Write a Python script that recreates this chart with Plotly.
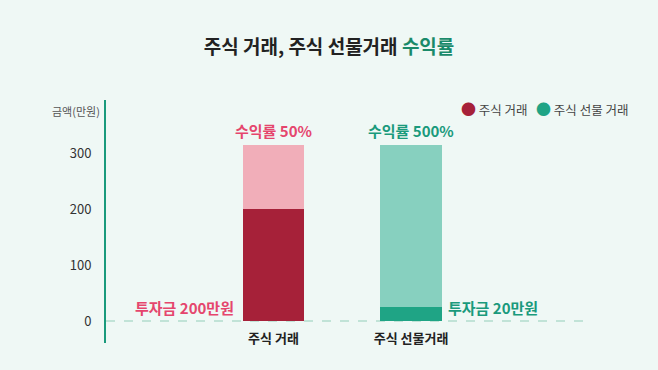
import plotly.graph_objects as go

categories = ["주식 거래", "주식 선물거래"]
invest = [200, 25]
profit = [116, 291]
return_labels = ["수익률 50%", "수익률 500%"]
invest_labels = ["투자금 200만원", "투자금 20만원"]
y_ticks = [0, 100, 200, 300]
legend_names = ["주식 거래", "주식 선물 거래"]

FONT = "Noto Sans CJK KR"
BG = "#eff8f5"
dark = ["#a62139", "#1fa485"]
light = ["#f1aeb9", "#87d0bf"]
text_col = ["#e5466d", "#1a9a7c"]
xs = list(range(len(categories)))
BW = 0.447

fig = go.Figure()
fig.add_trace(go.Bar(x=xs, y=invest, width=BW, marker=dict(color=dark, line=dict(width=0)),
                     showlegend=False, hoverinfo="skip"))
fig.add_trace(go.Bar(x=xs, y=profit, width=BW, marker=dict(color=light, line=dict(width=0)),
                     showlegend=False, hoverinfo="skip"))

fig.add_shape(type="line", xref="paper", x0=0, x1=1, yref="y", y0=0, y1=0,
              line=dict(color="#b3dccd", width=1.5, dash="dash"), layer="below")

ann = []
for i in xs:
    ann.append(dict(x=i, y=invest[i] + profit[i], xref="x", yref="y", text="<b>%s</b>" % return_labels[i],
                    showarrow=False, yanchor="bottom", yshift=2,
                    font=dict(family=FONT, size=15, color=text_col[i])))
ann.append(dict(x=0, y=invest[1], xref="x", yref="y", text="<b>%s</b>" % invest_labels[0],
                showarrow=False, xanchor="right", yanchor="middle", xshift=-37,
                font=dict(family=FONT, size=15, color=text_col[0])))
ann.append(dict(x=1, y=invest[1], xref="x", yref="y", text="<b>%s</b>" % invest_labels[1],
                showarrow=False, xanchor="left", yanchor="middle", xshift=35,
                font=dict(family=FONT, size=15, color=text_col[1])))
ann.append(dict(x=0, y=0.955, xref="paper", yref="paper", text="금액(만원)", showarrow=False,
                xanchor="right", yanchor="middle", xshift=-4,
                font=dict(family=FONT, size=11, color="#555555")))
legend_txt = ("<span style='color:%s;font-size:15px'>●</span> %s   "
              "<span style='color:%s;font-size:15px'>●</span> %s") % (dark[0], legend_names[0], dark[1], legend_names[1])
ann.append(dict(x=1.089, y=0.967, xref="paper", yref="paper", text=legend_txt, showarrow=False,
                xanchor="right", yanchor="middle",
                font=dict(family=FONT, size=12.5, color="#444444")))

fig.update_layout(
    width=658, height=370,
    paper_bgcolor=BG, plot_bgcolor=BG,
    barmode="stack",
    margin=dict(l=106, r=71, t=100, b=27),
    showlegend=False,
    title=dict(text="<b>주식 거래, 주식 선물거래 <span style='color:#1a8a6a'>수익률</span></b>",
               x=0.5, xref="container", xanchor="center", y=1 - 47 / 370, yref="container",
               yanchor="middle", font=dict(family=FONT, size=19, color="#222222")),
    xaxis=dict(range=[-1.217, 2.279], tickvals=xs, ticktext=["<b>%s</b>" % c for c in categories],
               showline=False, showgrid=False, zeroline=False, ticks="",
               anchor="free", position=22 / 243, ticklabelstandoff=8,
               tickfont=dict(family=FONT, size=13, color="#222222")),
    yaxis=dict(range=[-39.4, 395.7], tickvals=y_ticks, showline=True, linecolor="#1a9a7c", linewidth=2,
               showgrid=False, zeroline=False, ticks="", ticklabelstandoff=10,
               tickfont=dict(family=FONT, size=13, color="#333333")),
    annotations=ann,
)

fig.write_html("out.html", config={"displayModeBar": False},
               post_script="document.body.style.margin='0';document.body.style.background='%s';" % BG)
